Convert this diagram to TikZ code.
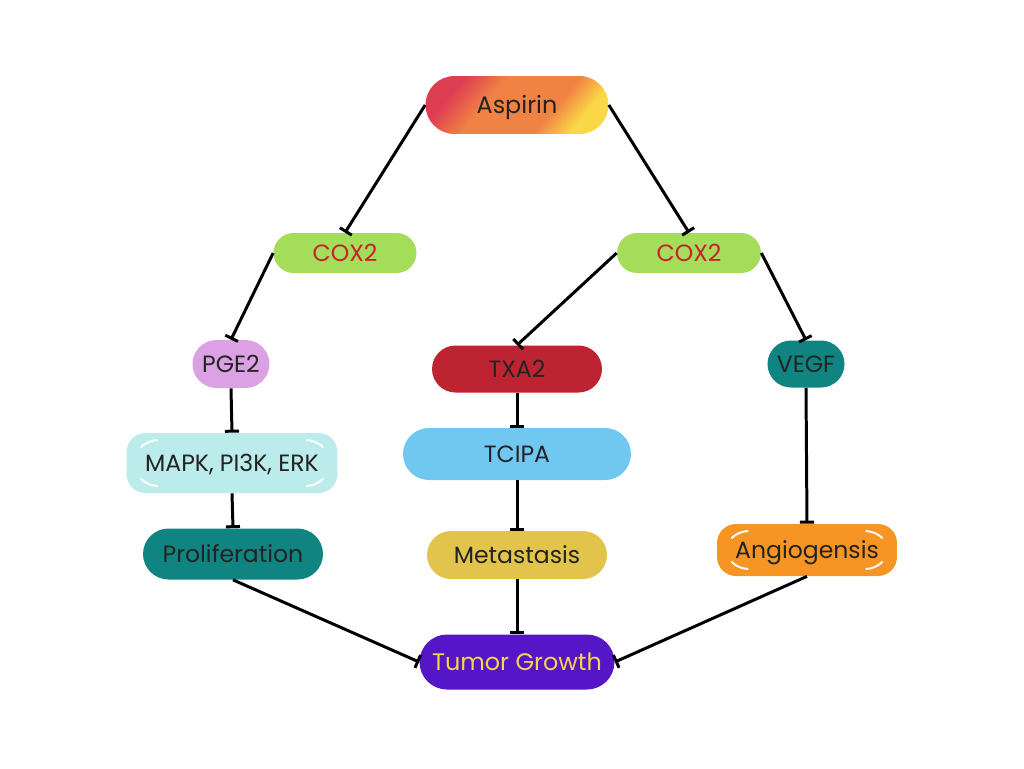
\documentclass[tikz,border=0pt]{standalone}
\usepackage{fontspec}
\setmainfont{Poppins}
\usetikzlibrary{arrows.meta,shapes.misc,calc}

\definecolor{asp_color}{RGB}{240,130,68}
\definecolor{asp_red}{RGB}{222,62,82}
\definecolor{asp_yellow}{RGB}{250,215,70}
\pgfdeclarehorizontalshading{aspshade}{100bp}{color(0bp)=(asp_red); color(27bp)=(asp_red);
  color(40bp)=(asp_color); color(62bp)=(asp_color); color(73bp)=(asp_yellow); color(100bp)=(asp_yellow)}

\begin{document}
\begin{tikzpicture}[x=0.02cm,y=-0.02cm]
  \definecolor{cox_color}{RGB}{163,221,90}
  \definecolor{cox_text}{RGB}{200,32,45}
  \definecolor{pge_color}{RGB}{220,160,228}
  \definecolor{txa_color}{RGB}{190,35,50}
  \definecolor{teal_color}{RGB}{15,132,128}
  \definecolor{mapk_color}{RGB}{187,235,235}
  \definecolor{tcipa_color}{RGB}{112,200,240}
  \definecolor{meta_color}{RGB}{226,196,76}
  \definecolor{angio_color}{RGB}{246,148,36}
  \definecolor{tumor_color}{RGB}{85,22,200}
  \definecolor{tumor_text}{RGB}{245,212,80}
  \definecolor{label_color}{RGB}{35,35,35}
  \tikzstyle{box} = [rounded rectangle, inner sep=0pt, text=label_color, text height=9.4pt, text depth=0pt,
    font=\fontsize{13.4}{16}\selectfont]
  \tikzstyle{card} = [rectangle, rounded corners=0.38cm, inner sep=0pt, text=label_color,
    text height=9.4pt, text depth=0pt, font=\fontsize{13.4}{16}\selectfont]
  % white highlights in the four corners
  \tikzstyle{gloss} = [path picture={
      \draw[white, line width=1.1pt, line cap=round]
        ($(path picture bounding box.north west)+(32,32)+(226:25)$) arc[start angle=226, end angle=267, radius=25]
        ($(path picture bounding box.north east)+(-32,32)+(273:25)$) arc[start angle=273, end angle=314, radius=25]
        ($(path picture bounding box.south west)+(32,-32)+(93:25)$) arc[start angle=93, end angle=134, radius=25]
        ($(path picture bounding box.south east)+(-32,-32)+(46:25)$) arc[start angle=46, end angle=87, radius=25];
    }]
  \tikzstyle{inhib} = [line width=1.7pt, -{Bar[width=8pt,line width=1.7pt]}]
  \useasboundingbox (0,0) rectangle (1024,768);

  \node[box, minimum width=3.66cm, minimum height=1.16cm, shading=aspshade, shading angle=-40,
    font=\fontsize{13.6}{16}\selectfont] (aspirin) at (517,105) {Aspirin};
  \node[box, fill=cox_color, text=cox_text, minimum width=2.86cm, minimum height=0.8cm] (coxl) at (345,253) {COX2};
  \node[box, fill=cox_color, text=cox_text, minimum width=2.88cm, minimum height=0.8cm] (coxr) at (689,253) {COX2};
  \node[box, fill=pge_color, minimum width=1.54cm, minimum height=0.96cm] (pge) at (231,364) {PGE2};
  \node[box, fill=txa_color, minimum width=3.4cm, minimum height=0.94cm] (txa) at (517,369) {TXA2};
  \node[box, fill=teal_color, minimum width=1.54cm, minimum height=0.94cm] (vegf) at (806,364) {VEGF};
  \node[card, gloss, fill=mapk_color, minimum width=4.22cm, minimum height=1.2cm] (mapk) at (232,463) {MAPK, PI3K, ERK};
  \node[box, fill=tcipa_color, minimum width=4.56cm, minimum height=1.04cm] (tcipa) at (517,454) {TCIPA};
  \node[box, fill=teal_color, minimum width=3.6cm, minimum height=1.02cm] (prolif) at (233,554) {Proliferation};
  \node[box, fill=meta_color, minimum width=3.6cm, minimum height=0.96cm] (meta) at (517,555) {Metastasis};
  \node[card, gloss, fill=angio_color, minimum width=3.6cm, minimum height=1.04cm] (angio) at (807,550) {Angiogensis};
  \node[box, fill=tumor_color, text=tumor_text, minimum width=3.9cm, minimum height=1.1cm,
    font=\fontsize{13.6}{16}\selectfont] (tumor) at (517,662) {Tumor Growth};

  \draw[inhib] (aspirin.west) -- (coxl.north);
  \draw[inhib] (aspirin.east) -- (coxr.north);
  \draw[inhib] (coxl.west) -- (pge.north);
  \draw[inhib] (coxr.west) -- (txa.north);
  \draw[inhib] (coxr.east) -- (vegf.north);
  \draw[inhib] (pge.south) -- (mapk.north);
  \draw[inhib] (mapk.south) -- (prolif.north);
  \draw[inhib] (txa.south) -- (tcipa.north);
  \draw[inhib] (tcipa.south) -- (meta.north);
  \draw[inhib] (vegf.south) -- (angio.north);
  \draw[inhib] (meta.south) -- (tumor.north);
  \draw[inhib] (prolif.south) -- (tumor.west);
  \draw[inhib] (angio.south) -- (tumor.east);
\end{tikzpicture}
\end{document}
